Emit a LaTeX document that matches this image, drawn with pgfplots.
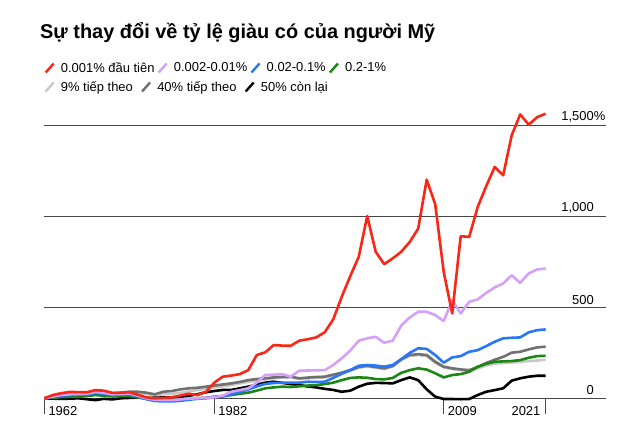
\documentclass[border=0pt]{standalone}
\usepackage{fontspec}
\setmainfont{Liberation Sans}
\usepackage{pgfplots}
\usepackage{pgfplotstable}
\pgfplotsset{compat=1.18}
\definecolor{cred}{RGB}{250,38,22}
\definecolor{clil}{RGB}{212,160,250}
\definecolor{cblu}{RGB}{40,118,250}
\definecolor{cgrn}{RGB}{28,135,18}
\definecolor{clgr}{RGB}{200,200,200}
\definecolor{cdgr}{RGB}{112,112,112}
\definecolor{gridc}{RGB}{70,70,70}

% year, top 0.001%, 0.002-0.01%, 0.02-0.1%, 0.2-1%, next 9%, next 40%, bottom 50%
\pgfplotstableread{
year r    p    b    g    lg   dg   k
1962 0    0    0    0    0    0    0
1963 18   10   8    3    4    5    -2
1964 28   18   15   6    8    10   -3
1965 35   22   18   8    12   14   -2
1966 34   24   20   10   14   16   0
1967 33   25   22   12   15   18   -5
1968 45   35   30   18   20   24   -10
1969 42   30   25   14   18   22   -3
1970 30   22   18   10   16   20   -6
1971 31   24   20   12   22   31   0
1972 33   26   22   12   27   36   2
1973 20   15   10   5    29   36   4
1974 5    0    -5   -3   24   31   2
1975 0    -8   -15  -8   16   22   3
1976 2    -10  -17  -9   22   36   5
1977 5    -10  -17  -8   25   40   5
1978 15   -6   -14  -6   30   49   8
1979 25   -2   -8   -3   38   55   14
1980 18   0    -3   0    45   58   22
1981 35   3    0    3    52   64   33
1982 86   5    5    9    60   70   40
1983 119  15   10   12   66   76   46
1984 125  36   22   18   73   82   46
1985 133  45   35   25   81   90   55
1986 155  55   49   31   91   100  64
1987 238  86   65   42   98   106  75
1988 253  128  79   55   104  110  86
1989 293  130  84   60   110  115  91
1990 290  133  86   64   114  118  85
1991 289  119  86   62   115  119  78
1992 317  152  86   66   106  110  73
1993 325  153  91   70   110  114  65
1994 335  154  90   73   113  117  60
1995 363  155  91   78   115  119  52
1996 434  183  112  86   126  130  46
1997 558  220  135  100  137  141  36
1998 672  262  155  112  151  155  42
1999 778  317  179  115  168  172  64
2000 1003 330  183  113  175  179  80
2001 806  338  180  106  168  172  85
2002 738  306  174  104  161  165  84
2003 770  317  183  112  174  178  82
2004 806  400  215  140  210  215  100
2005 860  445  250  155  233  238  115
2006 934  476  275  165  238  243  100
2007 1203 476  272  158  233  238  49
2008 1068 458  238  138  196  201  9
2009 696  425  196  115  170  174  -4
2010 467  540  225  128  161  165  -4
2011 892  467  232  133  155  159  -5
2012 888  531  256  146  150  155  -4
2013 1053 544  265  174  165  172  18
2014 1167 580  287  190  180  194  36
2015 1273 610  311  201  190  212  45
2016 1227 632  330  203  194  228  55
2017 1447 677  333  205  197  251  97
2018 1562 635  335  210  200  256  110
2019 1506 687  363  223  205  269  119
2020 1547 709  375  232  208  280  124
2021 1566 714  379  234  212  284  124
}\wealth

\begin{document}
\begin{tikzpicture}
\useasboundingbox (0,0) rectangle (640bp,447bp);
\node[anchor=base west, inner sep=0pt, font=\fontsize{20}{24}\selectfont\bfseries]
  at (40bp,408bp) {Sự thay đổi về tỷ lệ giàu có của người Mỹ};

\begin{axis}[
    at={(44.3bp,48.7bp)}, anchor=south west, scale only axis,
    width=561.7bp, height=272.6bp,
    xmin=1962, xmax=2028.1, ymin=0, ymax=1500,
    enlargelimits=false, clip=false,
    axis x line*=bottom, axis y line*=right,
    x axis line style={draw=gridc, line width=1.3bp, -},
    y axis line style={draw=none},
    xtick={1962,1982,2009,2021},
    xticklabels={1962,1982,2009,\llap{2021\hspace{10bp}}},
    xtick style={draw=gridc, line width=1.1bp},
    major tick length=16bp, tick align=outside,
    xticklabel style={anchor=north west, inner sep=0pt, xshift=4bp, yshift=8bp},
    ytick={0,500,1000,1500},
    yticklabels={0,500,{1,000},{1,500\rlap{\%}}},
    ytick style={draw=none},
    ymajorgrids, grid style={gridc, line width=1.3bp},
    yticklabel style={anchor=south east, inner sep=0pt, xshift=-28bp, yshift=3bp},
    tick label style={font=\fontsize{13}{15}\selectfont},
    every axis plot/.append style={line width=2.6bp, line join=round, no markers},
]
\addplot[clgr] table[x=year, y=lg] {\wealth};
\addplot[cdgr] table[x=year, y=dg] {\wealth};
\addplot[black] table[x=year, y=k] {\wealth};
\addplot[cgrn] table[x=year, y=g] {\wealth};
\addplot[cblu] table[x=year, y=b] {\wealth};
\addplot[clil] table[x=year, y=p] {\wealth};
\addplot[cred] table[x=year, y=r] {\wealth};
\end{axis}

% legend, first row
\begin{axis}[
    at={(44.3bp,48.7bp)}, anchor=south west, scale only axis,
    width=561.7bp, height=272.6bp, hide axis,
    xmin=0, xmax=1, ymin=0, ymax=1,
    legend columns=-1,
    legend image code/.code={\draw[#1, line width=2.4bp] (0bp,-4.5bp) -- (8bp,4.5bp);},
    legend style={at={(0,1.2117)}, anchor=west, draw=none, fill=none, inner sep=0pt,
      font=\fontsize{13}{15}\selectfont,
      /tikz/every odd column/.append style={column sep=4bp},
      /tikz/every even column/.append style={column sep=1bp}},
]
\addlegendimage{cred}\addlegendentry{0.001\% đầu tiên}
\addlegendimage{clil}\addlegendentry{0.002-0.01\%}
\addlegendimage{cblu}\addlegendentry{0.02-0.1\%}
\addlegendimage{cgrn}\addlegendentry{0.2-1\%}
\end{axis}

% legend, second row
\begin{axis}[
    at={(44.3bp,48.7bp)}, anchor=south west, scale only axis,
    width=561.7bp, height=272.6bp, hide axis,
    xmin=0, xmax=1, ymin=0, ymax=1,
    legend columns=-1,
    legend image code/.code={\draw[#1, line width=2.4bp] (0bp,-4.5bp) -- (8bp,4.5bp);},
    legend style={at={(0,1.142)}, anchor=west, draw=none, fill=none, inner sep=0pt,
      font=\fontsize{13}{15}\selectfont,
      /tikz/every odd column/.append style={column sep=4bp},
      /tikz/every even column/.append style={column sep=6bp}},
]
\addlegendimage{clgr}\addlegendentry{9\% tiếp theo}
\addlegendimage{cdgr}\addlegendentry{40\% tiếp theo}
\addlegendimage{black}\addlegendentry{50\% còn lại}
\end{axis}
\end{tikzpicture}
\end{document}
